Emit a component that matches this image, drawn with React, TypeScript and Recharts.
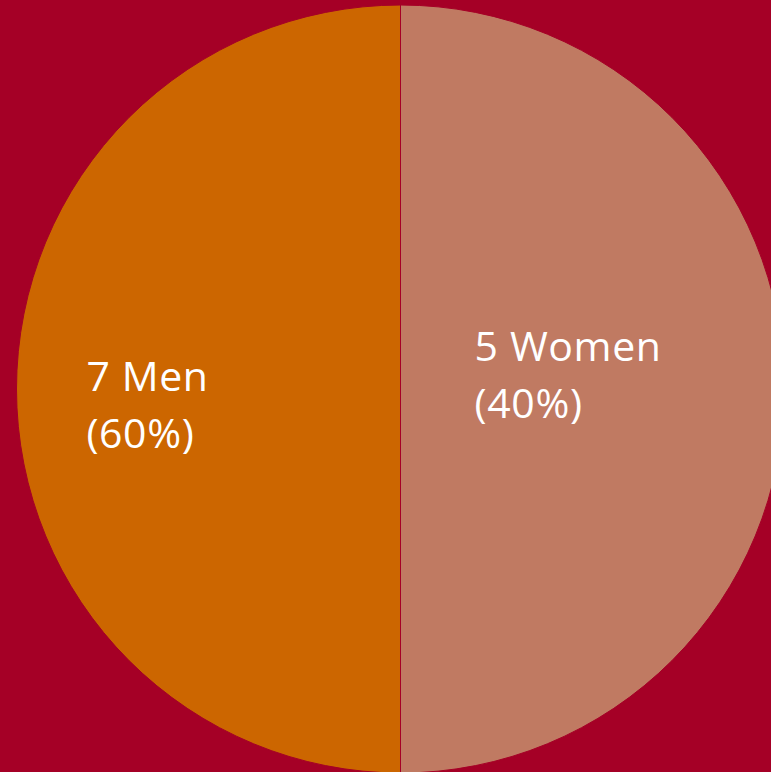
import { PieChart, Pie, Cell } from 'recharts';

const groups = ['Men', 'Women'];
const counts = [7, 5];
const percents = [60, 40];
// slice sizes as drawn in the picture (two equal halves)
const shares = [50, 50];
const colors = ['#CC6600', '#C07A62'];

const data = groups.map((g, i) => ({ name: g, value: shares[i], count: counts[i], pct: percents[i] }));

const RAD = Math.PI / 180;

function renderLabel(props: any) {
  const { cx, cy, midAngle, outerRadius, index } = props;
  const d = data[index];
  const left = Math.cos(-midAngle * RAD) < 0;
  const x = left ? cx - outerRadius * 0.818 : cx + outerRadius * 0.193;
  const y = left ? cy + 2 : cy - 28;
  return (
    <text x={x} y={y} fill="#FFFFFF" textAnchor="start" fontFamily="'Open Sans', sans-serif" fontSize={41} letterSpacing={0.6}>
      <tspan x={x}>{`${d.count} ${d.name}`}</tspan>
      <tspan x={x} dy={57}>{`(${d.pct}%)`}</tspan>
    </text>
  );
}

export default function App() {
  return (
    <div style={{ position: 'absolute', top: 0, left: 0, width: 771, height: 772, background: '#A50026', overflow: 'hidden' }}>
      <PieChart width={771} height={772} margin={{ top: 0, right: 0, bottom: 0, left: 0 }}>
        <Pie
          data={data}
          dataKey="value"
          cx={400.5}
          cy={389}
          outerRadius={384}
          startAngle={90}
          endAngle={450}
          stroke="#A50026"
          strokeWidth={1}
          label={renderLabel}
          labelLine={false}
          isAnimationActive={false}
        >
          {data.map((d, i) => (
            <Cell key={d.name} fill={colors[i]} />
          ))}
        </Pie>
      </PieChart>
    </div>
  );
}
